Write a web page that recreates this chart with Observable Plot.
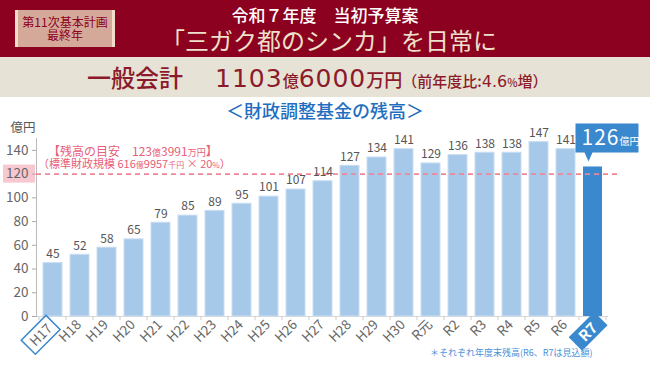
<!DOCTYPE html>
<html><head><meta charset="utf-8">
<script src="https://cdn.jsdelivr.net/npm/d3@7"></script>
<script src="https://cdn.jsdelivr.net/npm/@observablehq/plot@0.6"></script>
<style>
body{margin:0;background:#fff;font-family:"Noto Sans CJK JP",sans-serif;}
#wrap{position:relative;width:650px;height:365px;overflow:hidden;background:#fff;}
#red{position:absolute;left:0;top:0;width:650px;height:57px;background:#8C0020;}
#beige{position:absolute;left:0;top:57px;width:650px;height:40px;background:#E6E2D6;}
#badge{position:absolute;left:15px;top:10px;width:94px;height:37px;background:#D5A999;border-left:3px solid #F2DDCB;border-right:3px solid #F2DDCB;color:#8C0020;font-size:12px;line-height:13px;text-align:center;box-sizing:content-box;padding-top:0;}
#badge div:first-child{margin-top:5px;}
#t1{position:absolute;left:0;top:4px;width:650px;text-align:center;color:#fff;font-size:17px;line-height:22px;font-weight:500;}
#t2{position:absolute;left:4px;top:25px;width:650px;text-align:center;color:#EDE1CB;font-size:24px;line-height:29px;}
#t3{position:absolute;left:87px;top:62px;white-space:nowrap;color:#8C1A2A;line-height:30px;font-weight:500;}
#t4{position:absolute;left:0;top:98px;width:650px;text-align:center;color:#1F6EC0;font-size:18px;line-height:24px;font-weight:500;}
#chart{position:absolute;left:0;top:97px;}
.num{font-family:"DejaVu Sans","Noto Sans CJK JP",sans-serif;}
</style>
</head><body>
<div id="wrap">
  <div id="red"></div>
  <div id="badge"><div>第11次基本計画</div><div>最終年</div></div>
  <div id="t1">令和７年度　当初予算案</div>
  <div id="t2">「三ガク都のシンカ」を日常に</div>
  <div id="beige"></div>
  <div id="t3"><span style="font-size:24px">一般会計</span><span style="display:inline-block;width:32px"></span><span class="num" style="font-size:25px;letter-spacing:1px">1103</span><span style="font-size:16px">億</span><span class="num" style="font-size:25px;letter-spacing:1px">6000</span><span style="font-size:18px">万円</span><span style="font-size:15px">（前年度比:</span><span class="num" style="font-size:16px">4.6</span><span style="font-size:11px">%</span><span style="font-size:15px">増）</span></div>
  <div id="chart"></div>
  <div id="t4">＜財政調整基金の残高＞</div>
</div>
<script>
const cats = ["H17","H18","H19","H20","H21","H22","H23","H24","H25","H26","H27","H28","H29","H30","R元","R2","R3","R4","R5","R6","R7"];
const values = [45,52,58,65,79,85,89,95,101,107,114,127,134,141,129,136,138,138,147,141,126];
const yTicks = [0,20,40,60,80,100,120,140];
const target = 120;
const highlight = "R7";
const outlined = "H17";
const yLabel = "億円";
const note = "＊それぞれ年度末残高(R6、R7は見込額)";
const guideLine1 = [["【残高の目安　123",12],["億",9],["3991",12],["万円",9],["】",12]];
const guideLine2 = [["（標準財政規模 616",11],["億",8],["9957",11],["千円",8],[" × 20",11],["%",8],["）",11]];
const calloutParts = [[String(values[cats.indexOf(highlight)]),21],["億円",10]];

const data = cats.map((c,i)=>({year:c, value:values[i]}));
const normal = data.filter(d=>d.year!==highlight);
const hi = data.filter(d=>d.year===highlight);

const BAR = "#A6C9EA", HI = "#3A88CE", PINK = "#E8607A";
const FONT = "'Noto Sans CJK JP', sans-serif";

function bandInfo(x){
  const bw = x.bandwidth ? x.bandwidth() : 19;
  const step = x(cats[1]) - x(cats[0]);
  return {bw, step, c: d => x(d) + bw/2};
}

const marks = [
  (index, {y}) => {
    const g = d3.create("svg:g");
    g.append("rect").attr("x",3).attr("width",32).attr("y",y(target)-9).attr("height",18).attr("fill","#F7C8D0");
    return g.node();
  },
  Plot.ruleY([0], {stroke:"#d8d8d8"}),
  Plot.frame({anchor:"left", stroke:"#bbb"}),
  Plot.axisY({ticks: yTicks, tickSize: 4, tickPadding: 4, label: null, fontSize: 13.5, color:"#666", stroke:"#aaa"}),
  Plot.text([yLabel], {frameAnchor:"top-left", text: d=>d, textAnchor:"end", dx:-1, dy:-15, fontSize:12.5, fill:"#555"}),
  (index, {x, y}) => {
    const {bw, step} = bandInfo(x);
    const g = d3.create("svg:g").attr("stroke","#ccc");
    const gap = (step - bw)/2;
    const pos = cats.map(c => x(c) - gap).concat([x(cats[cats.length-1]) + bw + gap]);
    for (const p of pos) g.append("line").attr("x1",p).attr("x2",p).attr("y1",y(0)).attr("y2",y(0)+4);
    return g.node();
  },
  Plot.barY(normal, {x:"year", y:"value", fill:BAR, stroke:"#C9DDF2", strokeWidth:1}),
  Plot.barY(hi, {x:"year", y:"value", fill:HI}),
  Plot.ruleY([target], {stroke:"#EE8898", strokeWidth:1.6, strokeDasharray:"5,4", insetRight:-9}),
  Plot.text(normal, {x:"year", y:"value", text: d=>String(d.value), dy:-9, fontSize:12, fill:"#555"}),
  (index, {y}, v, dims) => {
    const g = d3.create("svg:g").attr("fill",PINK).attr("font-family",FONT).attr("text-anchor","start");
    const y0 = y(target);
    const t1 = g.append("text").attr("x", dims.marginLeft + 12).attr("y", y0 - 18);
    for (const [s,f] of guideLine1) t1.append("tspan").attr("font-size",f).text(s);
    const t2 = g.append("text").attr("x", dims.marginLeft + 2).attr("y", y0 - 6);
    for (const [s,f] of guideLine2) t2.append("tspan").attr("font-size",f).text(s);
    return g.node();
  },
  (index, {x, y}) => {
    const {c} = bandInfo(x);
    const cx = c(highlight), top = y(values[cats.indexOf(highlight)]);
    const g = d3.create("svg:g");
    const L = cx-17, R = cx+46, T = top-43, B = top-14, tx = cx-4, ty = top-5;
    g.append("path").attr("fill",HI)
      .attr("d",`M${L},${T}H${R}V${B}H${tx+4}L${tx},${ty}L${tx-4},${B}H${L}Z`);
    const t = g.append("text").attr("x",L+6).attr("y",B-7).attr("fill","#fff").attr("font-family",FONT).attr("text-anchor","start");
    for (const [s,f] of calloutParts) t.append("tspan").attr("font-size",f).attr("letter-spacing", f>15?1:0).text(s);
    return g.node();
  },
  (index, {x, y}) => {
    const {c} = bandInfo(x);
    const g = d3.create("svg:g");
    const y0 = y(0);
    const a = g.append("g").attr("transform",`translate(${c(outlined)-3},${y0+10}) rotate(-45)`);
    a.append("rect").attr("x",-30).attr("y",-10).attr("width",35).attr("height",20).attr("fill","#fff").attr("stroke",HI).attr("stroke-width",1.5);
    const b = g.append("g").attr("transform",`translate(${c(highlight)+2},${y0+9}) rotate(-45)`);
    b.append("rect").attr("x",-27).attr("y",-9.5).attr("width",36).attr("height",19).attr("fill",HI);
    return g.node();
  },
  Plot.text(data.filter(d=>d.year!==highlight && d.year!==outlined), {x:"year", y:0, text:"year", rotate:-45, textAnchor:"end", dx:-1, dy:6, fontSize:13.5, fill:"#666"}),
  Plot.text(data.filter(d=>d.year===outlined), {x:"year", y:0, text:"year", rotate:-45, textAnchor:"end", dx:-3, dy:10, fontSize:13.5, fill:"#666"}),
  Plot.text(hi, {x:"year", y:0, text:"year", rotate:-45, textAnchor:"end", dx:2, dy:9, fontSize:15, fontWeight:"bold", fill:"#fff"}),
  Plot.text([note], {frameAnchor:"bottom-right", text:d=>d, textAnchor:"end", dx:-16, dy:39, fontSize:9, fill:"#4A90D8"})
];

const chart = Plot.plot({
  width: 650, height: 268,
  marginLeft: 36, marginRight: 42, marginTop: 41, marginBottom: 49,
  x: {type:"band", domain: cats, paddingInner: 0.3, paddingOuter: 0.15, axis: null},
  y: {domain: [0,150], axis: null},
  style: {fontFamily: FONT, background: "transparent", overflow: "visible"},
  marks
});
document.getElementById("chart").appendChild(chart);
</script>
</body></html>
